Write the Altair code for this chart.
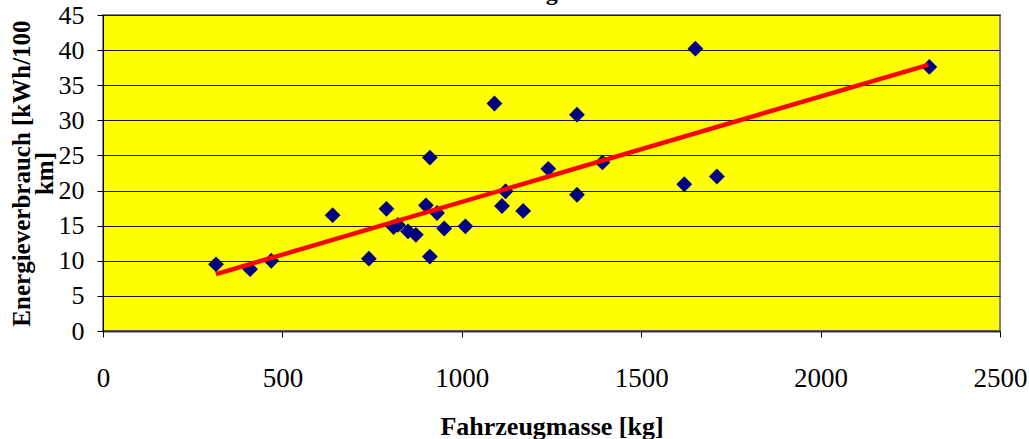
import altair as alt
import pandas as pd

# Scatter data
mass_kg = [315, 410, 469, 640, 741, 790, 810, 822, 850, 872, 900, 911, 911, 931,
           951, 1010, 1091, 1112, 1122, 1171, 1241, 1321, 1321, 1392, 1620, 1651,
           1711, 2303]
energy = [9.5, 8.8, 10.0, 16.5, 10.3, 17.4, 14.8, 15.1, 14.2, 13.7, 17.9, 24.7,
          10.6, 16.8, 14.6, 14.9, 32.4, 17.8, 19.9, 17.1, 23.1, 30.8, 19.4, 24.0,
          20.9, 40.2, 22.0, 37.6]

# Trend line end points
trend_x = [315, 2300]
trend_y = [8.1, 37.9]

x_ticks = [0, 500, 1000, 1500, 2000, 2500]
y_ticks = [0, 5, 10, 15, 20, 25, 30, 35, 40, 45]

title_text = "Energieverbrauch"
x_title = "Fahrzeugmasse [kg]"
y_title = ["Energieverbrauch [kWh/100", "km]"]

FONT = "Liberation Serif"

pts = pd.DataFrame({"m": mass_kg, "e": energy})
trend = pd.DataFrame({"m": trend_x, "e": trend_y})
ttl = pd.DataFrame({"t": [title_text]})

xscale = alt.Scale(domain=[0, 2500], nice=False, zero=False)
yscale = alt.Scale(domain=[0, 45], nice=False, zero=False)

xaxis = alt.Axis(values=x_ticks, title=x_title, grid=False, format="d",
                 labelOverlap=False, labelFlush=False,
                 labelFont=FONT, labelFontSize=27, labelColor="black",
                 labelPadding=28, tickSize=6, tickColor="black",
                 domainColor="#333333", domainWidth=2,
                 titleFont=FONT, titleFontSize=26, titleFontWeight="bold",
                 titleColor="black", titlePadding=22)
yaxis = alt.Axis(values=y_ticks, title=y_title, grid=True, gridColor="#1a1a1a",
                 gridWidth=1, format="d", labelOverlap=False, labelFlush=False,
                 tickCount=10,
                 labelFont=FONT, labelFontSize=26, labelColor="black",
                 labelPadding=13, tickSize=6, tickColor="black",
                 domainColor="black", domainWidth=1,
                 titleFont=FONT, titleFontSize=25, titleFontWeight="bold",
                 titleColor="black", titleAngle=270, titleAlign="center",
                 titleBaseline="middle", titleLineHeight=23,
                 titleX=-82, titleY=158)

points = alt.Chart(pts).mark_point(shape="diamond", filled=True, size=250,
                                   color="#000080", opacity=1).encode(
    x=alt.X("m:Q", scale=xscale, axis=xaxis),
    y=alt.Y("e:Q", scale=yscale, axis=yaxis),
)

line = alt.Chart(trend).mark_line(color="#FF0000", strokeWidth=4.5).encode(
    x=alt.X("m:Q", scale=xscale, axis=xaxis),
    y=alt.Y("e:Q", scale=yscale, axis=yaxis),
)

title = alt.Chart(ttl).mark_text(font=FONT, fontSize=24, fontWeight="bold",
                                 align="left", baseline="alphabetic",
                                 color="black").encode(
    x=alt.value(392), y=alt.value(-15.5), text="t:N")

chart = alt.layer(points, line, title).properties(
    width=897, height=316,
    autosize=alt.AutoSizeParams(type="none"),
    padding={"left": 103, "top": 15, "right": 29, "bottom": 108},
    background="white",
).configure_view(fill="#FFFF00", stroke="#808080", strokeWidth=2)

chart.save("out.html", embed_options={"renderer": "svg", "actions": False})
